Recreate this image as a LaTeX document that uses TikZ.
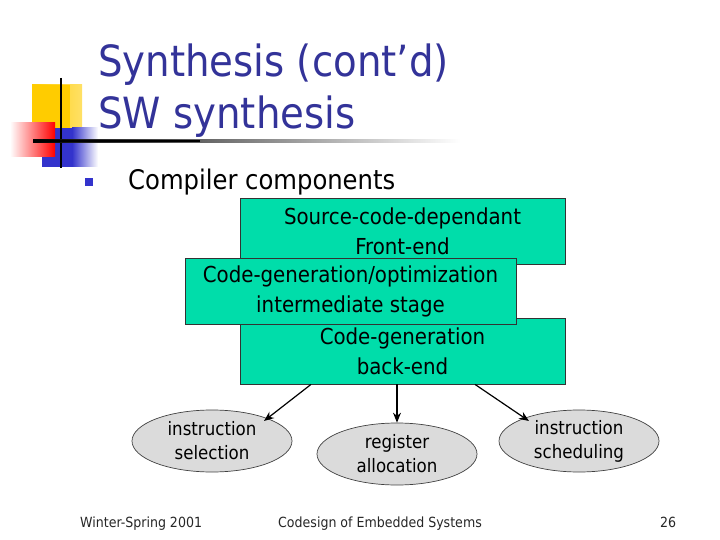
\documentclass[tikz,border=0pt]{standalone}
\usepackage{fontspec}
\setmainfont{DejaVu Sans Condensed}
\usetikzlibrary{shapes.geometric,arrows.meta}
\definecolor{titleblue}{RGB}{51,51,153}
\definecolor{boxgreen}{RGB}{0,221,170}
\definecolor{logoblue}{RGB}{51,51,204}
\definecolor{logoyellow}{RGB}{255,204,0}
\tikzset{
  stagebox/.style={draw=black!80, line width=0.8pt, fill=boxgreen, minimum width=#1, minimum height=66pt, inner sep=0pt, align=center, font=\fontsize{22}{30}\selectfont},
  leaf/.style={ellipse, draw=black!75, line width=0.7pt, fill=black!14, minimum width=160pt, minimum height=62pt, inner sep=0pt, align=center, font=\fontsize{18.5}{24}\selectfont},
  conn/.style={-{Stealth[length=10pt,width=8pt]}, line width=1.2pt},
  foot/.style={font=\fontsize{14}{16}\selectfont, anchor=base west, text=black!85},
  titletext/.style={anchor=base west, text=titleblue, font=\fontsize{43}{50}\selectfont, inner sep=0pt}
}
\begin{document}
\begin{tikzpicture}[x=1pt,y=-1pt]
\useasboundingbox (0,0) rectangle (720,540);
% logo
\shade[left color=logoyellow, right color=logoyellow!60!white] (32,85) rectangle (82,135);
\fill[logoyellow] (32,85) rectangle (70,135);
\fill[logoblue] (42,128) rectangle (72,167);
\shade[left color=logoblue, right color=white] (72,128) rectangle (98,167);
\shade[left color=white, right color=red] (10,123) rectangle (55,157);
\draw[line width=2pt] (61,78) -- (61,168);
\shade[left color=black, right color=white] (33,140) rectangle (460,142.5);
\fill[black] (33,140) rectangle (200,142.5);
% title
\node[titletext] (t1) at (98,77) {Synthesis (cont’d)};
\node[titletext] (t2) at (98,129) {SW synthesis};
% bullet
\fill[logoblue] (85,178) rectangle (93,186);
\node[anchor=base west, inner sep=0pt, font=\fontsize{27}{30}\selectfont] (cc) at (128,190) {Compiler components};
% boxes
\node[stagebox=325pt] (fe) at (402.5,231) {Source-code-dependant\\Front-end};
\node[stagebox=325pt] (be) at (402.5,351) {Code-generation\\back-end};
\node[stagebox=331pt] (mid) at (350.5,291) {Code-generation/optimization\\intermediate stage};
% leaves
\node[leaf] (is) at (212,441) {instruction\\selection};
\node[leaf] (ra) at (397,454) {register\\allocation};
\node[leaf] (sc) at (579,441) {instruction\\scheduling};
\coordinate (s1) at (be.south -| 311,0);
\coordinate (s3) at (be.south -| 475,0);
\draw[conn] (s1) -- (264,421);
\draw[conn] (be.south -| ra.north) -- (ra.north);
\draw[conn] (s3) -- (529,421);
% footer
\node[foot, inner sep=0pt] (f1) at (80,527) {Winter-Spring 2001};
\node[foot, inner sep=0pt] (f2) at (278,527) {Codesign of Embedded Systems};
\node[foot, inner sep=0pt] (f3) at (660,527) {26};
\end{tikzpicture}
\end{document}
